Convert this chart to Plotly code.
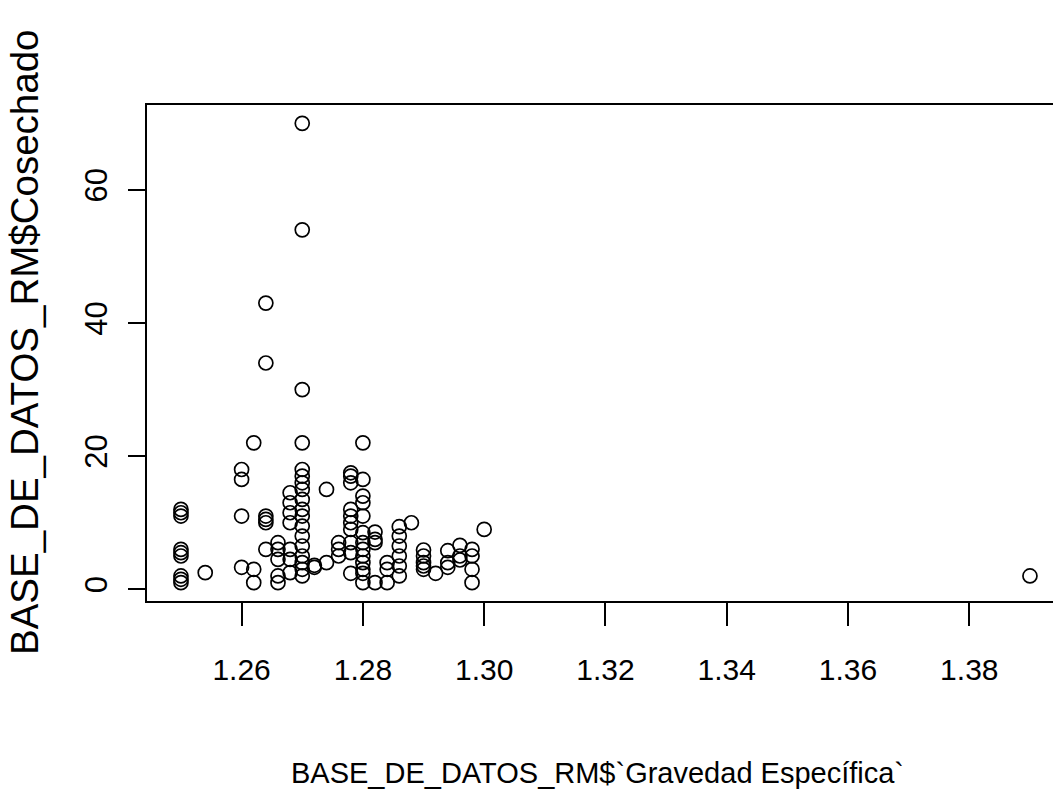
import plotly.graph_objects as go

# Gravedad específica (x) y cantidad cosechada (y) por observación
gravedad = (
    [1.25] * 9 + [1.254] + [1.26] * 4 + [1.262] * 3 + [1.264] * 6 + [1.266] * 5
    + [1.268] * 7 + [1.27] * 18 + [1.272] * 2 + [1.274] * 2 + [1.276] * 3
    + [1.278] * 10 + [1.28] * 13 + [1.282] * 4 + [1.284] * 3 + [1.286] * 6
    + [1.288] + [1.29] * 5 + [1.292] + [1.294] * 3 + [1.296] * 3 + [1.298] * 4
    + [1.30] + [1.39]
)
cosechado = (
    [12, 11.5, 11, 6, 5.5, 5, 2, 1.5, 1]
    + [2.5]
    + [18, 16.5, 11, 3.3]
    + [22, 3, 1]
    + [43, 34, 11, 10.5, 10, 6]
    + [7, 6, 4.5, 2, 1]
    + [14.5, 13, 11.5, 10, 6, 4.5, 2.5]
    + [70, 54, 30, 22, 18, 17, 16, 15, 13.5, 12, 11, 9.5, 8, 6.5, 5, 4, 3, 2]
    + [3.6, 3.3]
    + [15, 4]
    + [7, 6, 5]
    + [17.5, 17, 16, 12, 11, 10, 9, 7, 5.5, 2.4]
    + [22, 16.5, 14, 13, 11, 8.5, 7, 6, 5, 4, 3, 2.4, 1]
    + [8.6, 7.5, 7, 1]
    + [4, 3, 1]
    + [9.4, 8, 6.5, 5, 3.5, 2]
    + [10]
    + [5.9, 5, 4, 3.5, 3]
    + [2.4]
    + [5.8, 4, 3.3]
    + [6.6, 5, 4.4]
    + [6, 5, 3, 1]
    + [9]
    + [2]
)

x_ticks = [1.26, 1.28, 1.30, 1.32, 1.34, 1.36, 1.38]
x_tick_text = ["1.26", "1.28", "1.30", "1.32", "1.34", "1.36", "1.38"]
y_ticks = [0, 20, 40, 60]

x_title = "BASE_DE_DATOS_RM$`Gravedad Específica`"
y_title = "BASE_DE_DATOS_RM$Cosechado"

fig = go.Figure(
    go.Scatter(
        x=gravedad,
        y=cosechado,
        mode="markers",
        marker=dict(symbol="circle-open", size=14, color="black",
                    line=dict(width=1.7, color="black")),
        hoverinfo="x+y",
    )
)

fig.update_layout(
    width=1053,
    height=797,
    margin=dict(l=147, r=0, t=105, b=196),
    paper_bgcolor="white",
    plot_bgcolor="white",
    showlegend=False,
    font=dict(family="Liberation Sans", color="black"),
)

fig.update_xaxes(
    range=[1.2444, 1.3938],
    tickvals=x_ticks,
    ticktext=x_tick_text,
    ticks="outside",
    ticklen=23,
    tickwidth=1.8,
    tickcolor="black",
    showline=True,
    linewidth=2.2,
    linecolor="black",
    mirror=True,
    showgrid=False,
    zeroline=False,
    tickfont=dict(family="Liberation Sans", size=30, color="black"),
    ticklabelstandoff=18,
)

fig.update_yaxes(
    range=[-1.76, 72.76],
    tickvals=y_ticks,
    ticks="outside",
    ticklen=17,
    tickwidth=1.8,
    tickcolor="black",
    showline=True,
    linewidth=2.2,
    linecolor="black",
    mirror=False,
    showgrid=False,
    zeroline=False,
    tickangle=-90,
    tickfont=dict(family="Liberation Sans", size=31, color="black"),
    ticklabelstandoff=9,
)

fig.add_annotation(
    text=x_title, xref="paper", yref="paper",
    x=0.497, y=-0.347, xanchor="center", yanchor="middle",
    showarrow=False,
    font=dict(family="Liberation Sans", size=29, color="black"),
)
fig.add_annotation(
    text=y_title, xref="paper", yref="paper",
    x=-0.1358, y=0.522, xanchor="center", yanchor="middle",
    textangle=-90, showarrow=False,
    font=dict(family="Liberation Sans", size=38.5, color="black"),
)

fig.write_html("out.html")
